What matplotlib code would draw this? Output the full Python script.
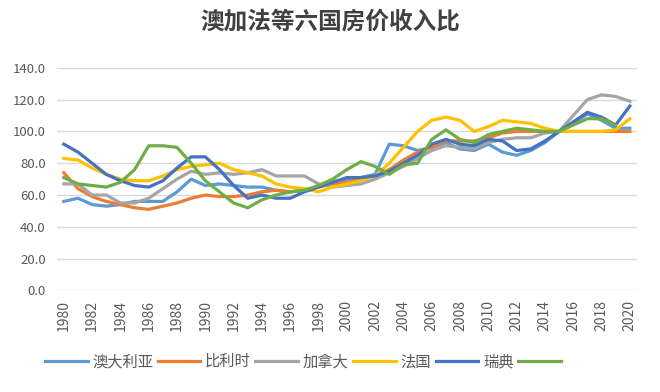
import numpy as np
import matplotlib
matplotlib.use("Agg")
import matplotlib.pyplot as plt

plt.rcParams['font.family'] = ['Noto Sans CJK SC', 'DejaVu Sans']

years = list(range(1980, 2021))

australia = [56, 58, 54, 53, 54, 56, 56, 56, 62, 70, 66, 67, 66, 65, 65, 63, 62, 63, 65, 68,
             70, 71, 73, 92, 91, 88, 90, 93, 89, 88, 92, 87, 85, 88, 93, 100, 105, 111, 107, 102, 102]
belgium = [74, 64, 59, 56, 54, 52, 51, 53, 55, 58, 60, 59, 59, 60, 62, 63, 62, 63, 65, 67,
           68, 70, 72, 76, 82, 87, 90, 94, 94, 94, 96, 99, 100, 100, 100, 100, 100, 100, 100, 100, 100]
canada = [67, 67, 60, 60, 55, 55, 58, 64, 70, 75, 73, 74, 73, 74, 76, 72, 72, 72, 67, 65,
          66, 67, 70, 74, 78, 83, 88, 91, 90, 89, 93, 95, 96, 96, 99, 100, 110, 120, 123, 122, 119]
france = [83, 82, 77, 73, 70, 69, 69, 72, 76, 78, 79, 80, 76, 74, 72, 67, 65, 64, 62, 65,
          67, 69, 72, 80, 90, 100, 107, 109, 107, 100, 103, 107, 106, 105, 102, 100, 100, 100, 100, 101, 108]
sweden = [92, 87, 80, 73, 69, 66, 65, 69, 77, 84, 84, 76, 66, 58, 60, 58, 58, 62, 65, 68,
          71, 71, 72, 75, 80, 85, 92, 95, 92, 91, 95, 94, 88, 89, 94, 100, 106, 112, 109, 104, 116]
green = [71, 67, 66, 65, 68, 76, 91, 91, 90, 80, 69, 62, 55, 52, 57, 60, 62, 63, 66, 70,
         76, 81, 78, 73, 79, 80, 95, 101, 95, 93, 98, 100, 102, 101, 100, 100, 104, 108, 108, 104, np.nan]

series = [
    ('澳大利亚', australia, '#5B9BD5'),
    ('比利时', belgium, '#ED7D31'),
    ('加拿大', canada, '#A5A5A5'),
    ('法国', france, '#FFC000'),
    ('瑞典', sweden, '#4472C4'),
    ('', green, '#70AD47'),
]

fig = plt.figure(figsize=(6.6, 3.92), dpi=100)
ax = fig.add_axes([0.086, 0.259, 0.879, 0.568])

handles = []
labels = []
for name, vals, col in series:
    ln, = ax.plot(years, vals, color=col, lw=2.3, solid_joinstyle='round')
    handles.append(ln)
    labels.append(name)

ax.set_xlim(1979.5, 2020.5)
ax.set_ylim(0, 140)
ax.set_yticks(range(0, 141, 20))
ax.set_yticklabels([f'{v:.1f}' for v in range(0, 141, 20)])
ax.set_xticks(years[::2])
ax.set_xticklabels([str(y) for y in years[::2]], rotation=90)
ax.grid(axis='y', color='#D9D9D9', lw=1)
ax.set_axisbelow(True)
for s in ax.spines.values():
    s.set_visible(False)
ax.tick_params(axis='both', length=0, colors='#595959', labelsize=9.5)
ax.tick_params(axis='x', labelsize=10, pad=7)
ax.tick_params(axis='y', pad=8)

fig.suptitle('澳加法等六国房价收入比', x=0.5, y=0.975, fontsize=17, fontweight='bold', color='#404040')

ax.legend(handles, labels, loc='center', bbox_to_anchor=(0.428, -0.32), ncol=6, frameon=False,
          fontsize=11, handlelength=2.8, handletextpad=0.3, columnspacing=0.3, labelcolor='#595959')

fig.savefig('out.png', dpi=100)
